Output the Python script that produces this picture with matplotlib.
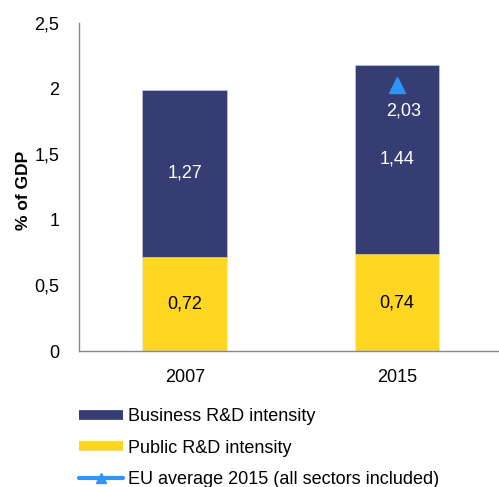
import matplotlib
matplotlib.use("Agg")
import matplotlib.pyplot as plt
from matplotlib.lines import Line2D

plt.rcParams['font.family'] = ['Liberation Sans', 'DejaVu Sans']

years = ["2007", "2015"]
public = [0.72, 0.74]
business = [1.27, 1.44]
eu_avg_label = "EU average 2015 (all sectors included)"
eu_avg = 2.03
yticks = [0, 0.5, 1, 1.5, 2, 2.5]
ytick_labels = ["0", "0,5", "1", "1,5", "2", "2,5"]

navy = "#363D72"
yellow = "#FFD622"
blue = "#2E95F5"

fig = plt.figure(figsize=(4.99, 4.87), dpi=100)
ax = fig.add_axes([0.158, 0.279, 0.85, 0.674])

x = range(len(years))
ax.bar(x, public, width=0.4, color=yellow, edgecolor="#e8e8f0", linewidth=0.5, zorder=2)
ax.bar(x, business, width=0.4, bottom=public, color=navy, edgecolor="#c8c8d8", linewidth=0.5, zorder=2)
ax.plot([1], [eu_avg], marker="^", color=blue, markersize=12, linestyle="none", zorder=3)

fs = 13
for i in x:
    ax.text(i, public[i] / 2, f"{public[i]:.2f}".replace(".", ","), ha="center", va="center",
            fontsize=fs, color="black")
    ax.text(i, public[i] + business[i] / 2, f"{business[i]:.2f}".replace(".", ","), ha="center",
            va="center", fontsize=fs, color="white")
ax.text(1.03, eu_avg - 0.2, f"{eu_avg:.2f}".replace(".", ","), ha="center", va="center",
        fontsize=fs, color="white")

ax.set_xlim(-0.5, 1.5)
ax.set_ylim(0, 2.5)
ax.set_xticks(list(x))
ax.set_xticklabels(years, fontsize=fs)
ax.set_yticks(yticks)
ax.set_yticklabels(ytick_labels, fontsize=fs)
ax.tick_params(axis="x", length=0, pad=13)
ax.tick_params(axis="y", length=0, pad=14)
for s in ["top", "right"]:
    ax.spines[s].set_visible(False)
for s in ["left", "bottom"]:
    ax.spines[s].set_color("#888888")
    ax.spines[s].set_linewidth(1)
ax.set_ylabel("% of GDP", fontsize=12.5, fontweight="bold", va="center")
ax.yaxis.set_label_coords(-0.13, 0.49)

handles = [
    Line2D([0], [0], color=navy, lw=7, solid_capstyle="butt"),
    Line2D([0], [0], color=yellow, lw=7, solid_capstyle="butt"),
    Line2D([0], [0], color=blue, lw=3, marker="^", markersize=7, solid_capstyle="round"),
]
labels = ["Business R&D intensity", "Public R&D intensity", eu_avg_label]
fig.legend(handles, labels, loc="upper left", bbox_to_anchor=(0.158, 0.162), frameon=False,
           fontsize=fs, handlelength=2.45, handletextpad=0.25, labelspacing=0.8,
           borderaxespad=0, borderpad=0)

fig.savefig("out.png", dpi=100)
